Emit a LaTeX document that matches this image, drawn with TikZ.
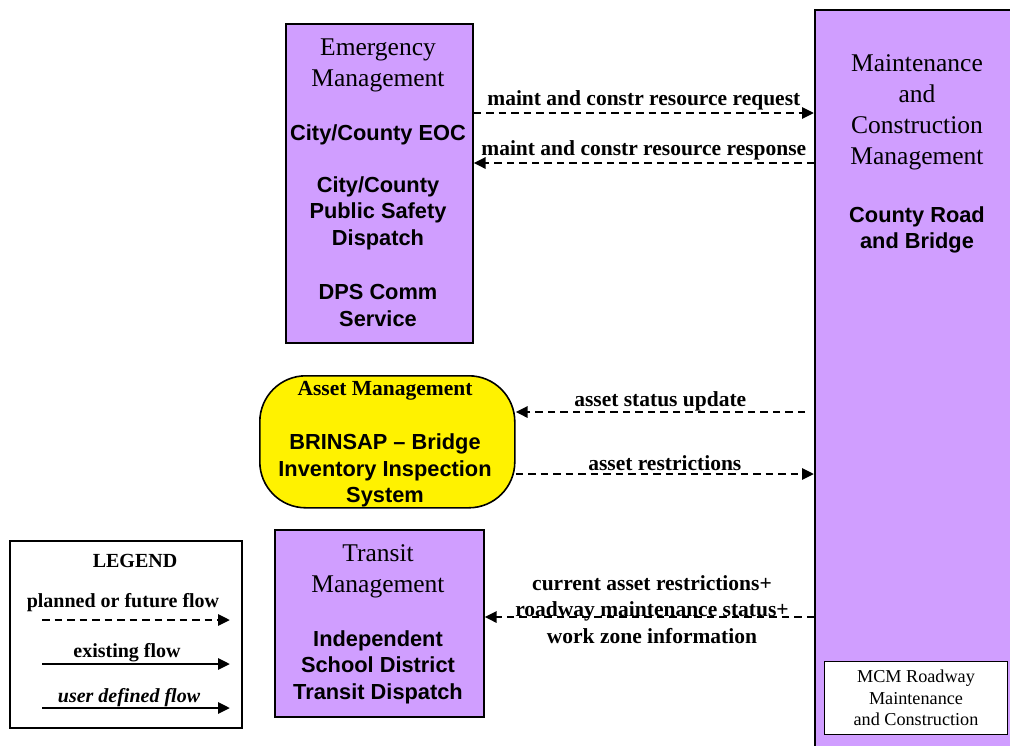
\documentclass[tikz,border=0pt]{standalone}
\usepackage{fontspec}
\setmainfont{Liberation Serif}
\newfontfamily\arialfont{Liberation Sans}
\usetikzlibrary{positioning,arrows.meta}
\definecolor{purp}{RGB}{208,158,255}
\tikzset{
  sysbox/.style={draw,line width=1.6pt,fill=purp,anchor=north west,inner sep=0pt},
  hdr/.style={font=\fontsize{25.5}{31}\selectfont,align=center,yshift=-2.5pt},
  sub/.style={font=\arialfont\bfseries\fontsize{21.8}{26.5}\selectfont,align=center,yshift=-2.5pt},
  flowlbl/.style={font=\bfseries\fontsize{21.5}{26.5}\selectfont,align=center,inner sep=2pt},
  legtxt/.style={font=\bfseries\fontsize{20}{24}\selectfont,yshift=-1.5pt},
  flow/.style={line width=2.8pt,dash pattern=on 7.5pt off 5pt,-{Triangle[length=12pt,width=11pt]}},
  solidflow/.style={line width=2.8pt,-{Triangle[length=12pt,width=11pt]}}
}
\begin{document}
\begin{tikzpicture}[x=1pt,y=-1pt]
\useasboundingbox (0,0) rectangle (1010,745);
% system boxes
\node[sysbox,minimum width=187pt,minimum height=319pt] (emg) at (285,23) {};
\node[sysbox,minimum width=200pt,minimum height=740pt] (maint) at (814,9) {};
\node[draw,fill=yellow,line width=1.6pt,rounded corners=46pt,anchor=north west,
  minimum width=255pt,minimum height=132pt] (asset) at (259,375) {};
\node[sysbox,minimum width=209pt,minimum height=187pt] (transit) at (274,529) {};
\node[draw,fill=white,line width=1.2pt,anchor=north west,
  minimum width=183pt,minimum height=73pt] (mcm) at (824,661) {};
\node[draw,fill=white,line width=1.6pt,anchor=north west,
  minimum width=232pt,minimum height=187pt] (legend) at (9,540) {};
% box texts
\node[hdr] (emgname) at (378,62.5) {Emergency\\Management};
\node[sub] (eoc) at (378,132) {City/County EOC};
\node[sub] (psd) at (378,210.5) {City/County\\Public Safety\\Dispatch};
\node[sub] (dps) at (378,303) {DPS Comm\\Service};
\node[hdr] (maintname) at (917,109.5) {Maintenance\\and\\Construction\\Management};
\node[sub] (crb) at (917,227.5) {County Road\\and Bridge};
\node[flowlbl] (assetname) at (385,391) {Asset Management};
\node[sub] (brinsap) at (385,468) {BRINSAP – Bridge\\Inventory Inspection\\System};
\node[hdr] (transitname) at (378,568.5) {Transit\\Management};
\node[sub] (isd) at (378,664.5) {Independent\\School District\\Transit Dispatch};
\node[font=\fontsize{18.2}{21.5}\selectfont,align=center] (mcmtxt) at (916,698)
  {MCM Roadway\\Maintenance\\and Construction};
% flows
\draw[flow] (emg.east |- 0,113) -- (maint.west |- 0,113)
  node[flowlbl,midway,above] {maint and constr resource request};
\draw[flow] (maint.west |- 0,163) -- (emg.east |- 0,163)
  node[flowlbl,midway,above] {maint and constr resource response};
\draw[flow] ([xshift=-9pt]maint.west |- 0,412) -- (asset.east |- 0,412)
  node[flowlbl,midway,above,yshift=-2pt] {asset status update};
\draw[flow] (asset.east |- 0,474) -- (maint.west |- 0,474)
  node[flowlbl,midway,above] {asset restrictions};
\draw[flow] (maint.west |- 0,617) -- (transit.east |- 0,617);
\node[flowlbl] (tlbl) at (652,609.5)
  {current asset restrictions+\\roadway maintenance status+\\work zone information};
% legend
\node[legtxt] (legtitle) at (135,559) {LEGEND};
\node[legtxt] (planlbl) at (123,601) {planned or future flow};
\coordinate (p1) at (42,620);
\coordinate (p2) at (230,620);
\draw[flow] (p1) -- (p2);
\node[legtxt] (exlbl) at (127,651) {existing flow};
\coordinate (e1) at (42,664);
\coordinate (e2) at (230,664);
\draw[solidflow] (e1) -- (e2);
\node[legtxt,font=\bfseries\itshape\fontsize{20}{24}\selectfont] (udlbl) at (129,696) {user defined flow};
\coordinate (u1) at (42,708);
\coordinate (u2) at (230,708);
\draw[solidflow] (u1) -- (u2);
\end{tikzpicture}
\end{document}
